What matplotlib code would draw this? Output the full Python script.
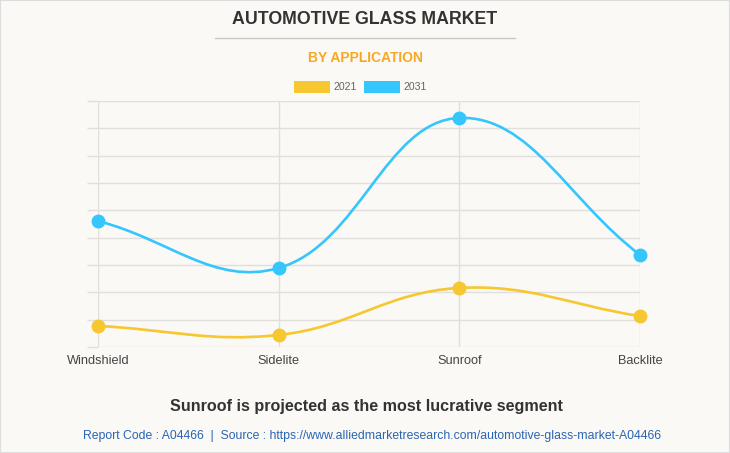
import numpy as np
import matplotlib
matplotlib.use("Agg")
import matplotlib.pyplot as plt
from matplotlib.path import Path
from matplotlib.patches import PathPatch, Rectangle
from matplotlib.lines import Line2D

categories = ["Windshield", "Sidelite", "Sunroof", "Backlite"]
series_names = ["2021", "2031"]
values_2021 = [0.77, 0.44, 2.16, 1.13]
values_2031 = [4.61, 2.89, 8.38, 3.37]
title = "AUTOMOTIVE GLASS MARKET"
subtitle = "BY APPLICATION"
caption = "Sunroof is projected as the most lucrative segment"
source = "Report Code : A04466  |  Source : https://www.alliedmarketresearch.com/automotive-glass-market-A04466"

BG = "#faf9f5"
YELLOW = "#f6c730"
BLUE = "#35c6fd"
GRID = "#e0dfdb"

plt.rcParams['font.family'] = ['Liberation Sans', 'DejaVu Sans']

fig = plt.figure(figsize=(7.3, 4.53), dpi=100, facecolor=BG)
W, H = 730, 453
ax = fig.add_axes([98 / W, 1 - 347 / H, (640 - 98) / W, (347 - 101) / H])
ax.set_facecolor(BG)
ax.set_xlim(0, 3)
ax.set_ylim(0, 9)
ax.set_yticks(np.arange(0, 10))
ax.set_xticks(range(len(categories)))
ax.set_xticklabels(categories, fontsize=9.2, color="#444444")
ax.tick_params(axis='y', length=8, color=GRID, width=1, labelleft=False)
ax.tick_params(axis='x', length=0, pad=6)
ax.grid(True, color=GRID, linewidth=1)
for s in ax.spines.values():
    s.set_visible(False)
ax.set_axisbelow(True)

# pixel scale for spline tension computation (Chart.js-like)
sx = (640 - 98) / 3.0
sy = (347 - 101) / 9.0


def spline_path(xs, ys, t=0.4):
    px = np.array(xs, float) * sx
    py = np.array(ys, float) * sy
    n = len(px)
    verts = [(xs[0], ys[0])]
    codes = [Path.MOVETO]
    cps = []
    for i in range(n):
        p0 = (px[max(i - 1, 0)], py[max(i - 1, 0)])
        p1 = (px[i], py[i])
        p2 = (px[min(i + 1, n - 1)], py[min(i + 1, n - 1)])
        d01 = np.hypot(p1[0] - p0[0], p1[1] - p0[1])
        d12 = np.hypot(p2[0] - p1[0], p2[1] - p1[1])
        tot = d01 + d12
        s01 = d01 / tot if tot else 0
        s12 = d12 / tot if tot else 0
        fa, fb = t * s01, t * s12
        prev_cp = (p1[0] - fa * (p2[0] - p0[0]), p1[1] - fa * (p2[1] - p0[1]))
        next_cp = (p1[0] + fb * (p2[0] - p0[0]), p1[1] + fb * (p2[1] - p0[1]))
        cps.append((prev_cp, next_cp))
    for i in range(1, n):
        c1 = cps[i - 1][1]
        c2 = cps[i][0]
        verts += [(c1[0] / sx, c1[1] / sy), (c2[0] / sx, c2[1] / sy), (xs[i], ys[i])]
        codes += [Path.CURVE4] * 3
    return Path(verts, codes)


xs = list(range(len(categories)))
for vals, col in [(values_2021, YELLOW), (values_2031, BLUE)]:
    ax.add_patch(PathPatch(spline_path(xs, vals), facecolor='none', edgecolor=col,
                           linewidth=1.9, zorder=3, clip_on=False))
    ax.plot(xs, vals, linestyle='none', marker='o', markersize=9, color=col,
            zorder=4, clip_on=False)

# titles
fig.text(0.5, 1 - 20 / H, title, ha='center', va='center', fontsize=12.8,
         fontweight='bold', color="#333333")
fig.add_artist(Line2D([215 / W, 515 / W], [1 - 37.5 / H, 1 - 37.5 / H],
                      color="#c8c8c8", linewidth=1))
fig.text(0.5, 1 - 58 / H, subtitle, ha='center', va='center', fontsize=10,
         fontweight='bold', color="#f7a823")

# legend
for (name, col, x0) in [(series_names[0], YELLOW, 294), (series_names[1], BLUE, 364)]:
    fig.add_artist(Rectangle((x0 / W, 1 - 93 / H), 36 / W, 12 / H, transform=fig.transFigure,
                             facecolor=col, edgecolor='none'))
    fig.text((x0 + 40) / W, 1 - 87 / H, name, ha='left', va='center', fontsize=7.6,
             color="#666666")

fig.text(367 / W, 1 - 407 / H, caption, ha='center', va='center', fontsize=11.6,
         fontweight='bold', color="#333333")
fig.text(372 / W, 1 - 436 / H, source, ha='center', va='center', fontsize=8.85,
         color="#2a64b4")

# border
fig.add_artist(Rectangle((0, 0), 1, 1, transform=fig.transFigure, facecolor='none',
                         edgecolor="#dddddd", linewidth=1.5))

fig.savefig("out.png", dpi=100, facecolor=BG)
